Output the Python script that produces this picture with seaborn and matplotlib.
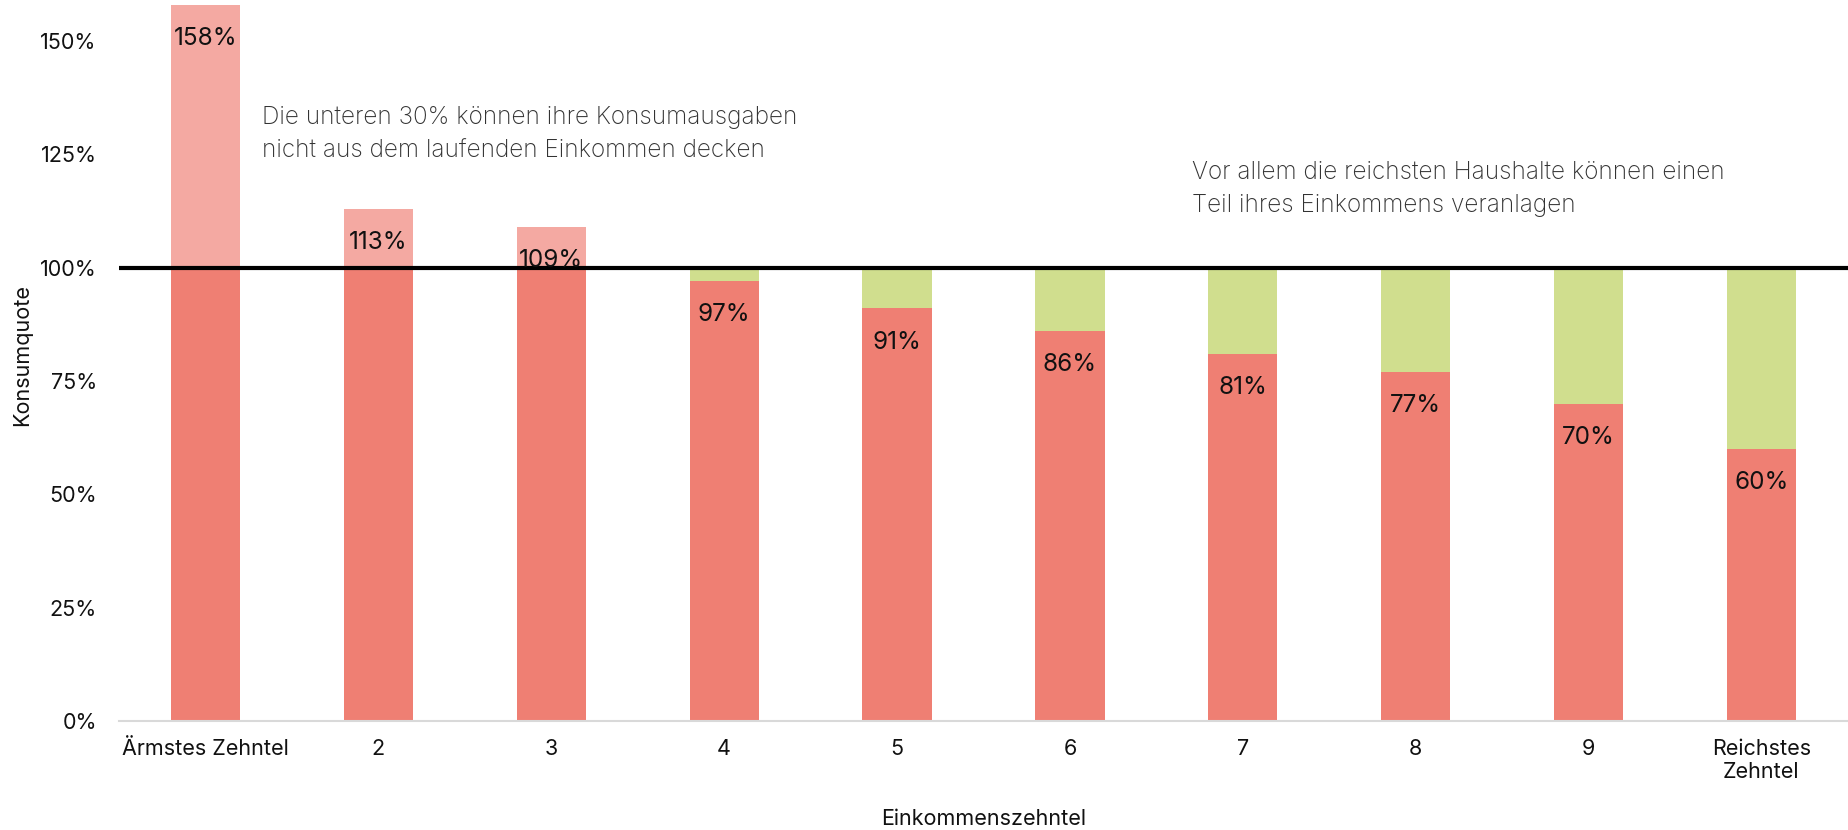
import matplotlib
matplotlib.use("Agg")
import matplotlib.pyplot as plt
import seaborn as sns
import numpy as np
import pandas as pd

categories = ["Ärmstes Zehntel", "2", "3", "4", "5", "6", "7", "8", "9", "Reichstes\nZehntel"]
konsumquote = [1.58, 1.13, 1.09, 0.97, 0.91, 0.86, 0.81, 0.77, 0.70, 0.60]
labels = ["158%", "113%", "109%", "97%", "91%", "86%", "81%", "77%", "70%", "60%"]
note_left = "Die unteren 30% können ihre Konsumausgaben\nnicht aus dem laufenden Einkommen decken"
note_right = "Vor allem die reichsten Haushalte können einen\nTeil ihres Einkommens veranlagen"

RED = "#ef7f73"
PINK = "#f4a9a2"
GREEN = "#d0de8e"

sns.set_theme(style="white")
plt.rcParams["font.family"] = ["Inter", "DejaVu Sans"]

df = pd.DataFrame({"cat": categories, "v": konsumquote})
df["outer"] = np.maximum(df["v"], 1.0)
df["inner"] = np.minimum(df["v"], 1.0)
outer_colors = [PINK if v > 1 else GREEN for v in konsumquote]

fig = plt.figure(figsize=(18.49, 8.30), dpi=100)
ax = fig.add_axes([119 / 1849, (830 - 721) / 830, (1848 - 119) / 1849, (721 - 0) / 830])

sns.barplot(data=df, x="cat", y="outer", hue="cat", palette=outer_colors, legend=False,
            width=0.4, saturation=1, ax=ax, order=categories, hue_order=categories, linewidth=0)
sns.barplot(data=df, x="cat", y="inner", hue="cat", palette=[RED] * len(categories), legend=False,
            width=0.4, saturation=1, ax=ax, order=categories, hue_order=categories, linewidth=0)

ax.axhline(1.0, color="black", lw=3, zorder=5)

for i, (v, lab) in enumerate(zip(konsumquote, labels)):
    ax.annotate(lab, (i, v), xytext=(0, -16), textcoords="offset points",
                ha="center", va="top", fontsize=17.5, color="#111111", zorder=6)

ax.set_xlim(-0.5, len(categories) - 0.5)
ax.set_ylim(0, 1.59)
ax.set_yticks([0, 0.25, 0.5, 0.75, 1.0, 1.25, 1.5])
ax.set_yticklabels(["0%", "25%", "50%", "75%", "100%", "125%", "150%"])
ax.tick_params(axis="y", length=0, pad=16, labelsize=15.5, labelcolor="#111111")
ax.tick_params(axis="x", length=0, pad=13, labelsize=15.5, labelcolor="#111111")

for s in ["top", "right", "left"]:
    ax.spines[s].set_visible(False)
ax.spines["bottom"].set_color("#d9d9d9")
ax.spines["bottom"].set_linewidth(1.5)

ax.set_xlabel("")
ax.set_ylabel("")
fig.text(984 / 1849, 1 - 819 / 830, "Einkommenszehntel", ha="center", va="center",
         fontsize=15.5, color="#111111")
fig.text(22 / 1849, 1 - 355 / 830, "Konsumquote", rotation=90, ha="center", va="center",
         fontsize=15.5, color="#111111")

fig.text(262 / 1849, 1 - 134 / 830, note_left, ha="left", va="center", fontsize=17.5,
         fontweight="light", color="#333333", linespacing=1.6)
fig.text(1192 / 1849, 1 - 189 / 830, note_right, ha="left", va="center", fontsize=17.5,
         fontweight="light", color="#333333", linespacing=1.6)

fig.savefig("out.png", dpi=100)
